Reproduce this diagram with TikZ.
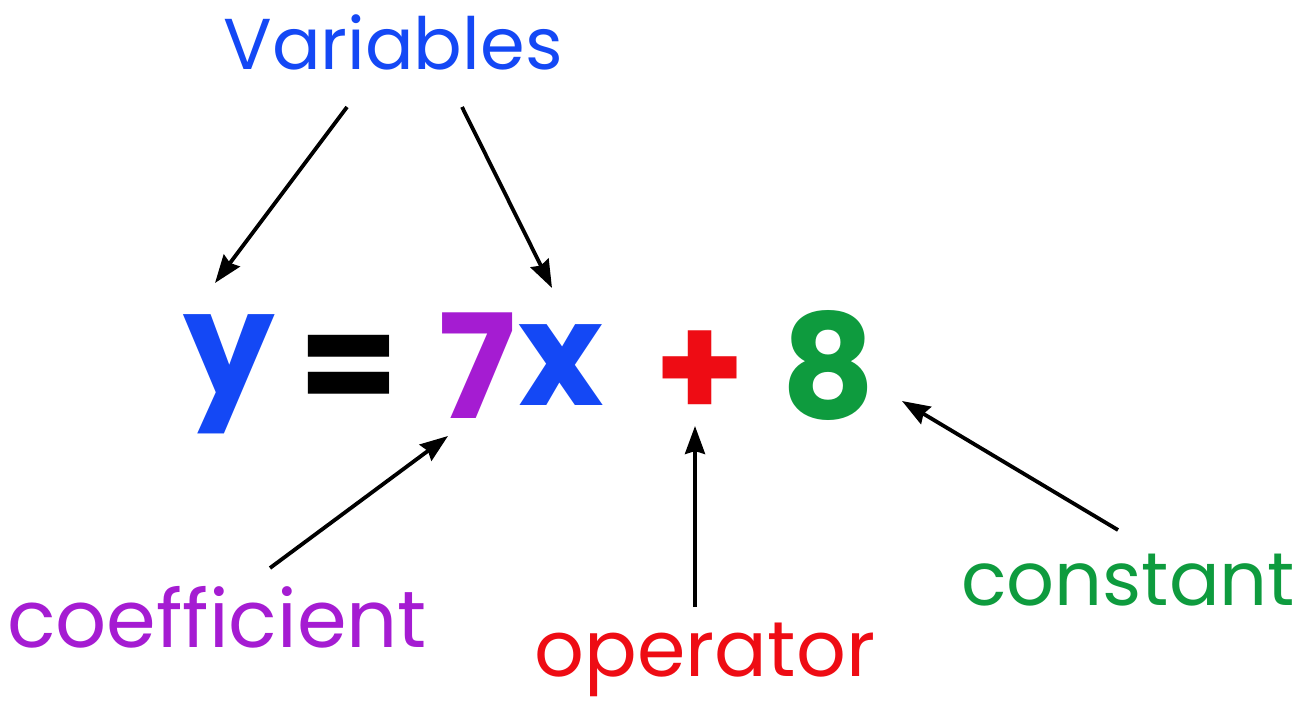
\documentclass[tikz,border=0pt]{standalone}
\usepackage{fontspec}
\setmainfont{Poppins}
\usetikzlibrary{arrows.meta}
\definecolor{vblue}{RGB}{20,72,245}
\definecolor{vpurple}{RGB}{165,28,210}
\definecolor{vred}{RGB}{238,12,20}
\definecolor{vgreen}{RGB}{14,155,62}
\begin{document}
\begin{tikzpicture}[x=1pt,y=-1pt,
  lbl/.style={inner sep=0pt,font=\fontsize{78}{88}\selectfont},
  eq/.style={inner sep=0pt,anchor=base,font=\fontsize{145}{160}\selectfont\bfseries},
  pointer/.style={line width=3.8pt,-{Stealth[length=28pt,width=20pt,inset=3pt]}}]
\useasboundingbox (0,0) rectangle (1300,711);
% labels
\node[lbl,text=vblue,font=\fontsize{72}{80}\selectfont] (var) at (393,42) {Variables};
\node[lbl,text=vpurple,font=\fontsize{80}{90}\selectfont] (coef) at (217,617) {coefficient};
\node[lbl,text=vred] (oper) at (705,660) {operator};
\node[lbl,text=vgreen,font=\fontsize{75}{85}\selectfont] (cons) at (1128,580) {constant};
% equation
\node[eq,text=vblue] (y) at (229,395) {y};
\node[eq,text=black] (eqs) at (349,415) {=};
\node[eq,text=vpurple] (seven) at (477,418) {7};
\node[eq,text=vblue] (x) at (561,405) {x};
\node[eq,text=vred] (plus) at (700,418) {+};
\node[eq,text=vgreen] (eight) at (828,418) {8};
% anchor coordinates for arrows
\coordinate (v1s) at (347,107);
\coordinate (v1e) at (215,283);
\coordinate (v2s) at (462,107);
\coordinate (v2e) at (552,288);
\coordinate (c1s) at (270,568);
\coordinate (c1e) at (448,436);
\coordinate (o1s) at (695,607);
\coordinate (o1e) at (695,426);
\coordinate (k1s) at (1118,530);
\coordinate (k1e) at (902,401);
\draw[pointer] (v1s) -- (v1e);
\draw[pointer] (v2s) -- (v2e);
\draw[pointer] (c1s) -- (c1e);
\draw[pointer] (o1s) -- (o1e);
\draw[pointer] (k1s) -- (k1e);
\end{tikzpicture}
\end{document}
